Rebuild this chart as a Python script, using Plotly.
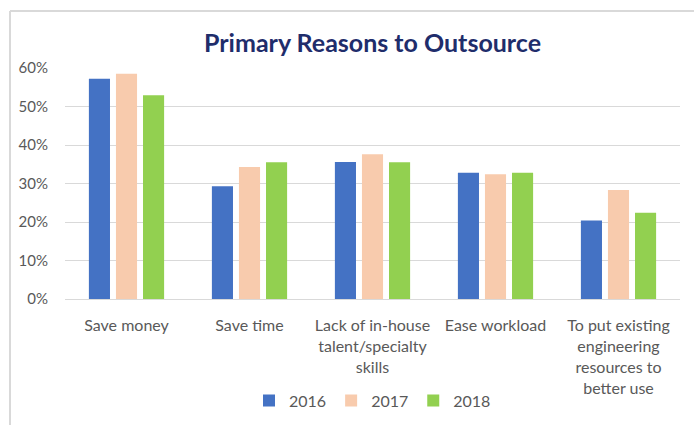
import plotly.graph_objects as go

categories = [
    "Save money",
    "Save time",
    "Lack of in-house<br>talent/specialty<br>skills",
    "Ease workload",
    "To put existing<br>engineering<br>resources to<br>better use",
]
years = ["2016", "2017", "2018"]
values_2016 = [0.572, 0.293, 0.356, 0.328, 0.204]
values_2017 = [0.585, 0.343, 0.376, 0.324, 0.283]
values_2018 = [0.529, 0.355, 0.355, 0.328, 0.224]
colors = ["#4472C4", "#F8CBAD", "#92D050"]
y_ticks = [0, 0.1, 0.2, 0.3, 0.4, 0.5, 0.6]

fig = go.Figure()
for name, vals, col in zip(years, [values_2016, values_2017, values_2018], colors):
    fig.add_trace(go.Bar(
        x=categories, y=vals, name=name,
        marker=dict(color=col, line=dict(width=0)),
    ))

font_family = "Lato, Open Sans, sans-serif"
fig.update_layout(
    width=694, height=425,
    margin=dict(l=65, r=14, t=68, b=126, autoexpand=False),
    paper_bgcolor="white", plot_bgcolor="white",
    barmode="group", bargap=0.34, bargroupgap=0.22,
    font=dict(family=font_family, color="#595959", size=16),
    title=dict(
        text="<b>Primary Reasons to Outsource</b>",
        x=0.5, xref="paper", xanchor="center",
        y=1 - 43 / 425, yref="container", yanchor="middle",
        font=dict(family=font_family, size=25, color="#1F2D6B"),
    ),
    showlegend=True,
    legend=dict(
        orientation="h", x=0.50, xanchor="center",
        y=-0.44, yanchor="middle",
        font=dict(size=16, color="#595959"),
        itemwidth=30, traceorder="normal",
    ),
    shapes=[
        dict(type="line", xref="paper", yref="paper",
             x0=-55 / 615, x1=1.1, y0=(299 - 11) / 231, y1=(299 - 11) / 231,
             line=dict(color="#D9D9D9", width=2)),
        dict(type="line", xref="paper", yref="paper",
             x0=-55 / 615, x1=-55 / 615, y0=(299 - 11) / 231, y1=-0.6,
             line=dict(color="#D9D9D9", width=2)),
    ],
)
fig.update_yaxes(
    range=[0, 0.6], tickvals=y_ticks, tickformat=".0%",
    showgrid=True, gridcolor="#D9D9D9", gridwidth=1,
    zeroline=False, showline=False, ticks="",
    ticklabelstandoff=16,
    tickfont=dict(size=15, color="#595959"),
)
fig.update_xaxes(
    showline=True, linecolor="#D9D9D9", linewidth=1,
    ticks="", ticklabelstandoff=12,
    tickfont=dict(size=16, color="#595959"),
    tickangle=0,
)

fig.write_html("out.html")
